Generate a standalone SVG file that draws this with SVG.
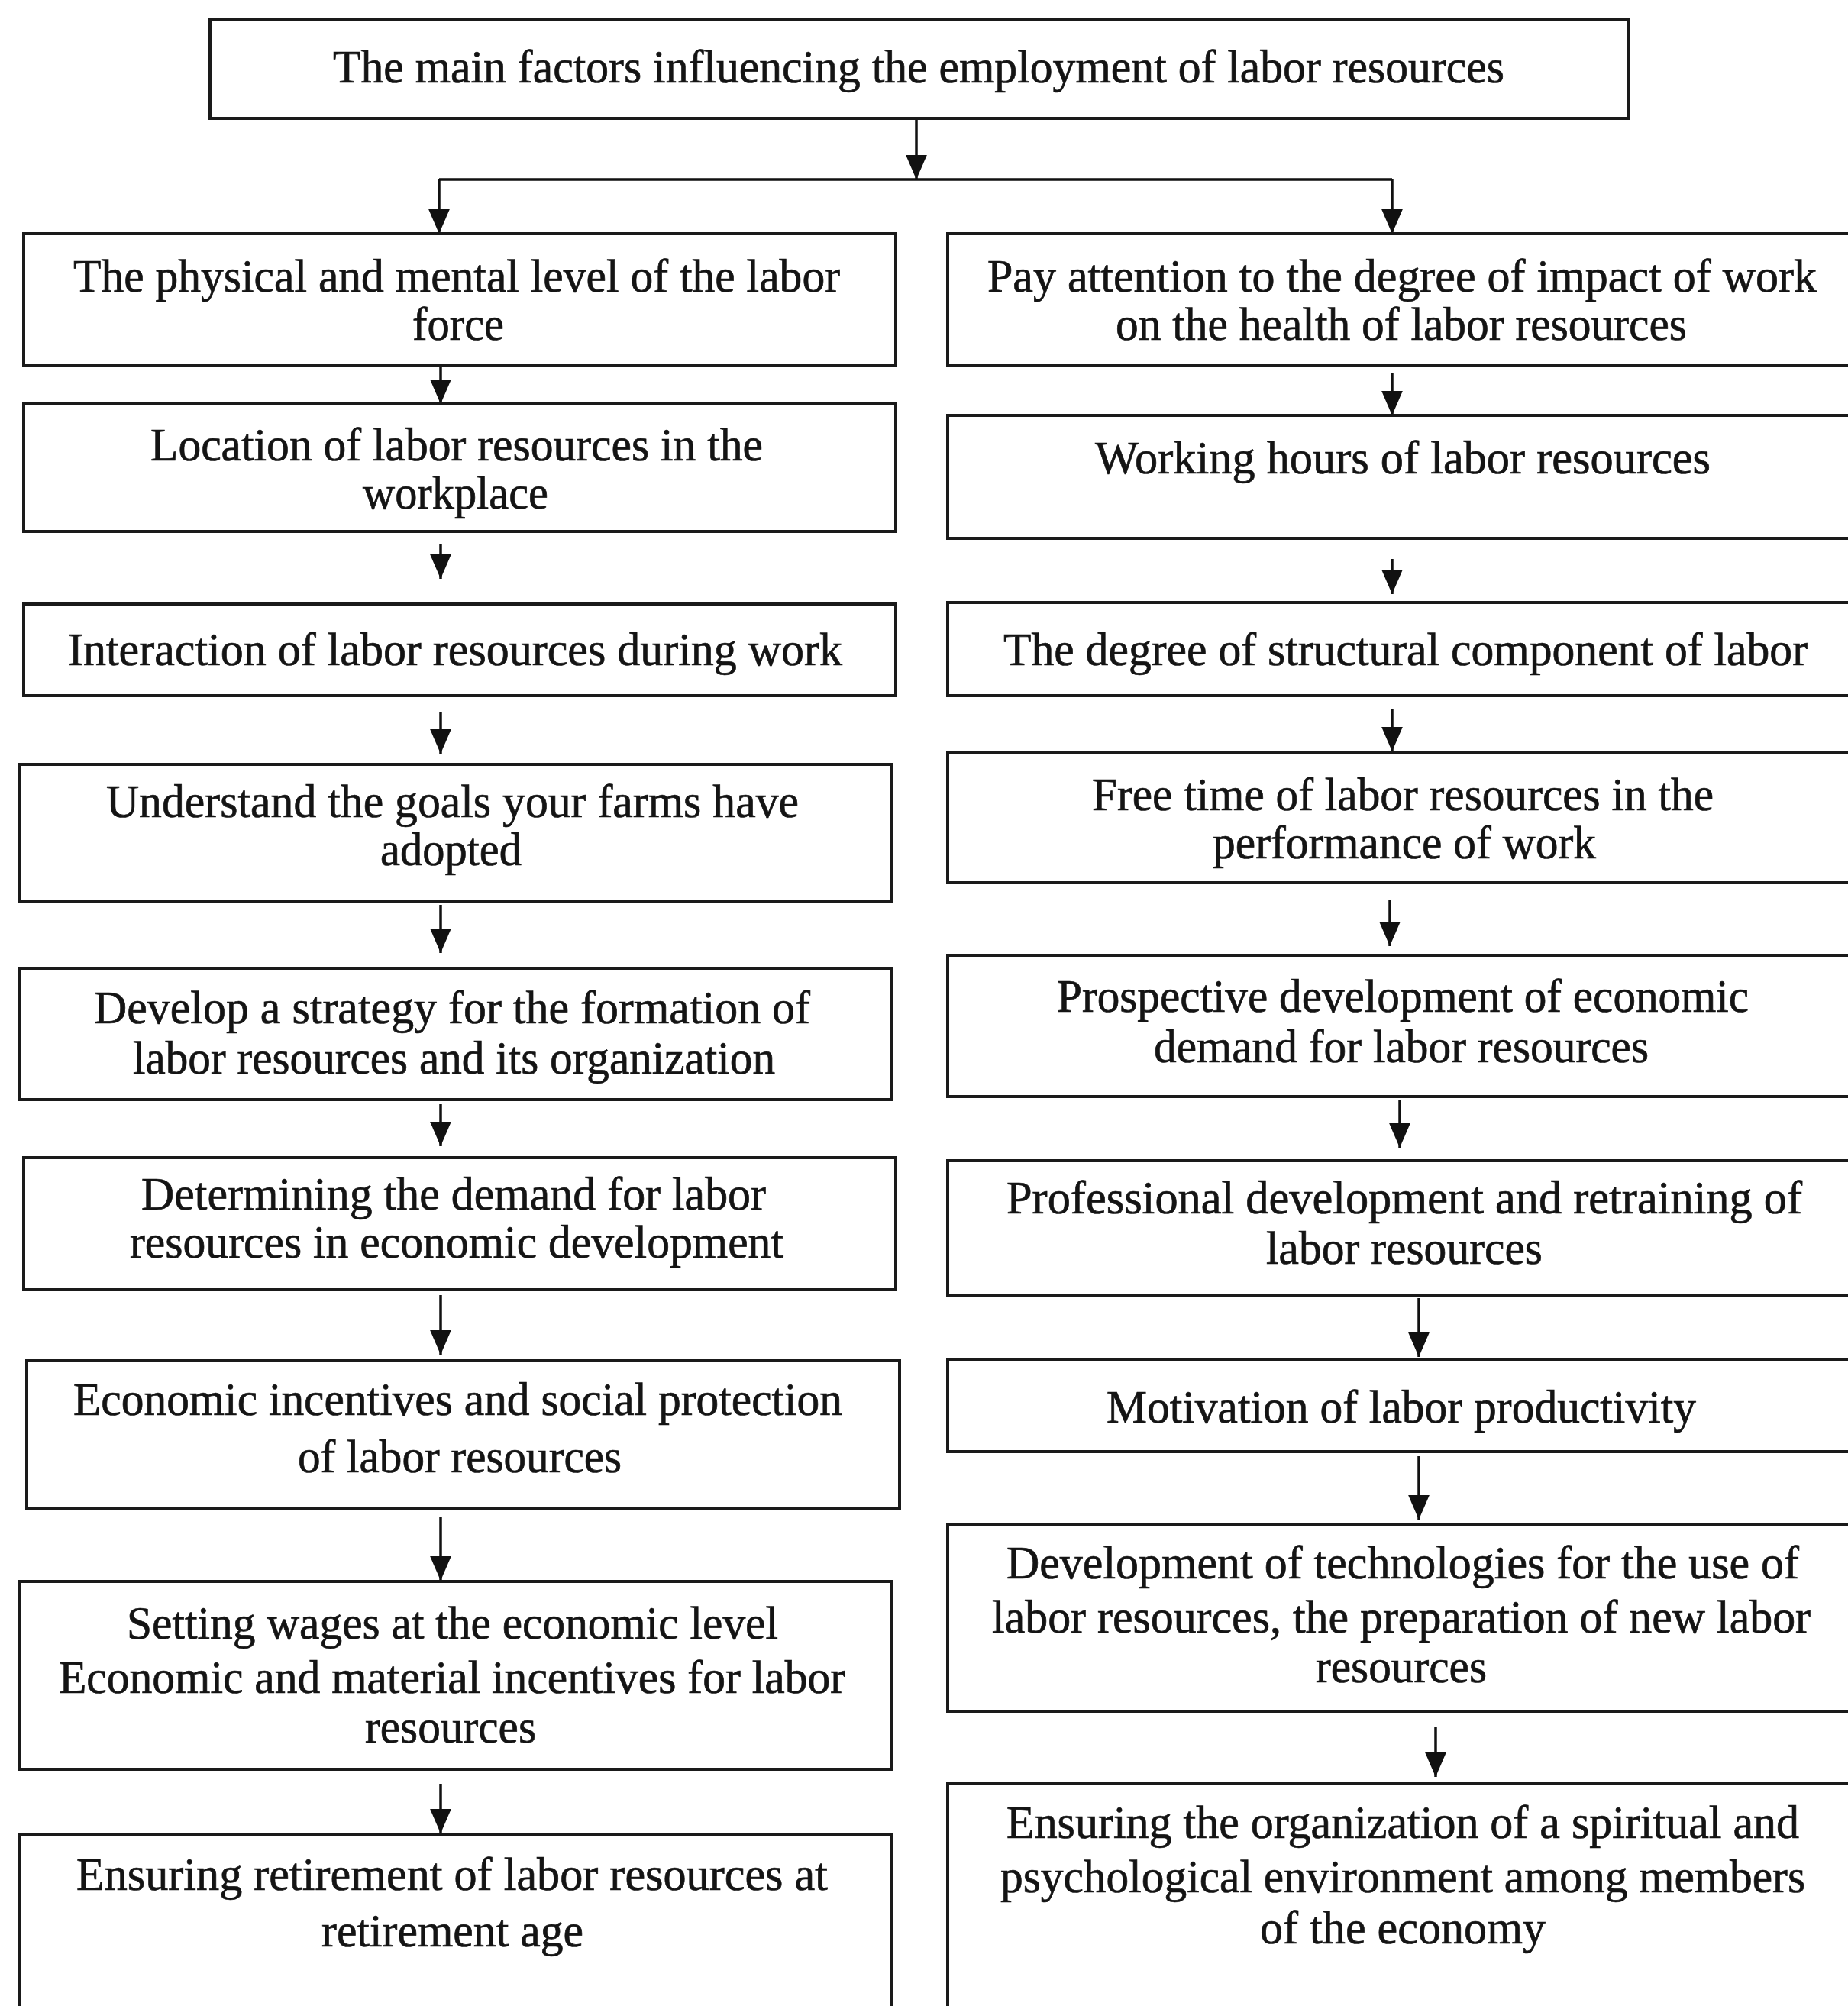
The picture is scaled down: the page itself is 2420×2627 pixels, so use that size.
<svg xmlns="http://www.w3.org/2000/svg" width="2420" height="2627" viewBox="0 0 2420 2627">
<defs>
<style>
.box{fill:#fff;stroke:#1a1a1a;stroke-width:4}
.t{font-family:"Liberation Serif","Times New Roman",serif;font-size:61px;fill:#141414;stroke:#141414;stroke-width:0.7}
.c{fill:none;stroke:#111;stroke-width:3.5}
</style>
<marker id="ah" viewBox="0 0 30 26" refX="30" refY="13" markerWidth="32" markerHeight="28" markerUnits="userSpaceOnUse" orient="auto">
<path d="M0,0 L30,13 L0,26 z" fill="#111"/>
</marker>
</defs>
<rect width="2420" height="2627" fill="#fff"/>

<g id="connectors">
<path class="c" d="M1200,155 V235" marker-end="url(#ah)"/>
<path class="c" d="M575,235 H1823"/>
<path class="c" d="M575,235 V306" marker-end="url(#ah)"/>
<path class="c" d="M1823,235 V306" marker-end="url(#ah)"/>
<path class="c" d="M577,479 V529" marker-end="url(#ah)"/>
<path class="c" d="M577,712 V758" marker-end="url(#ah)"/>
<path class="c" d="M577,932 V987" marker-end="url(#ah)"/>
<path class="c" d="M577,1185 V1248" marker-end="url(#ah)"/>
<path class="c" d="M577,1446 V1501" marker-end="url(#ah)"/>
<path class="c" d="M577,1696 V1774" marker-end="url(#ah)"/>
<path class="c" d="M577,1987 V2070" marker-end="url(#ah)"/>
<path class="c" d="M577,2336 V2401" marker-end="url(#ah)"/>
<path class="c" d="M1823,488 V544" marker-end="url(#ah)"/>
<path class="c" d="M1823,732 V778" marker-end="url(#ah)"/>
<path class="c" d="M1823,929 V984" marker-end="url(#ah)"/>
<path class="c" d="M1820,1179 V1239" marker-end="url(#ah)"/>
<path class="c" d="M1833,1440 V1503" marker-end="url(#ah)"/>
<path class="c" d="M1858,1700 V1777" marker-end="url(#ah)"/>
<path class="c" d="M1858,1907 V1990" marker-end="url(#ah)"/>
<path class="c" d="M1880,2262 V2327" marker-end="url(#ah)"/>
</g>

<g id="top">
<rect class="box" x="275" y="25" width="1857" height="130"/>
<text class="t" x="436" y="108" textLength="1534" lengthAdjust="spacingAndGlyphs">The main factors influencing the employment of labor resources</text>
</g>

<g id="L1">
<rect class="box" x="31" y="306" width="1142" height="173"/>
<text class="t" x="96" y="382" textLength="1004" lengthAdjust="spacingAndGlyphs">The physical and mental level of the labor</text>
<text class="t" x="540" y="445" textLength="120" lengthAdjust="spacingAndGlyphs">force</text>
</g>
<g id="L2">
<rect class="box" x="31" y="529" width="1142" height="167"/>
<text class="t" x="197" y="603" textLength="802" lengthAdjust="spacingAndGlyphs">Location of labor resources in the</text>
<text class="t" x="475" y="666" textLength="243" lengthAdjust="spacingAndGlyphs">workplace</text>
</g>
<g id="L3">
<rect class="box" x="31" y="791" width="1142" height="120"/>
<text class="t" x="89" y="871" textLength="1014" lengthAdjust="spacingAndGlyphs">Interaction of labor resources during work</text>
</g>
<g id="L4">
<rect class="box" x="25" y="1001" width="1142" height="180"/>
<text class="t" x="139" y="1070" textLength="907" lengthAdjust="spacingAndGlyphs">Understand the goals your farms have</text>
<text class="t" x="498" y="1133" textLength="185" lengthAdjust="spacingAndGlyphs">adopted</text>
</g>
<g id="L5">
<rect class="box" x="25" y="1268" width="1142" height="172"/>
<text class="t" x="123" y="1340" textLength="938" lengthAdjust="spacingAndGlyphs">Develop a strategy for the formation of</text>
<text class="t" x="174" y="1406" textLength="841" lengthAdjust="spacingAndGlyphs">labor resources and its organization</text>
</g>
<g id="L6">
<rect class="box" x="31" y="1516" width="1142" height="173"/>
<text class="t" x="185" y="1584" textLength="818" lengthAdjust="spacingAndGlyphs">Determining the demand for labor</text>
<text class="t" x="170" y="1647" textLength="856" lengthAdjust="spacingAndGlyphs">resources in economic development</text>
</g>
<g id="L7">
<rect class="box" x="35" y="1782" width="1143" height="194"/>
<text class="t" x="96" y="1853" textLength="1007" lengthAdjust="spacingAndGlyphs">Economic incentives and social protection</text>
<text class="t" x="390" y="1928" textLength="424" lengthAdjust="spacingAndGlyphs">of labor resources</text>
</g>
<g id="L8">
<rect class="box" x="25" y="2071" width="1142" height="246"/>
<text class="t" x="166" y="2146" textLength="853" lengthAdjust="spacingAndGlyphs">Setting wages at the economic level</text>
<text class="t" x="77" y="2217" textLength="1030" lengthAdjust="spacingAndGlyphs">Economic and material incentives for labor</text>
<text class="t" x="478" y="2282" textLength="224" lengthAdjust="spacingAndGlyphs">resources</text>
</g>
<g id="L9">
<rect class="box" x="25" y="2403" width="1142" height="260"/>
<text class="t" x="100" y="2475" textLength="984" lengthAdjust="spacingAndGlyphs">Ensuring retirement of labor resources at</text>
<text class="t" x="421" y="2549" textLength="343" lengthAdjust="spacingAndGlyphs">retirement age</text>
</g>

<g id="R1">
<rect class="box" x="1241" y="306" width="1200" height="173"/>
<text class="t" x="1293" y="382" textLength="1086" lengthAdjust="spacingAndGlyphs">Pay attention to the degree of impact of work</text>
<text class="t" x="1461" y="445" textLength="748" lengthAdjust="spacingAndGlyphs">on the health of labor resources</text>
</g>
<g id="R2">
<rect class="box" x="1241" y="544" width="1200" height="161"/>
<text class="t" x="1434" y="620" textLength="806" lengthAdjust="spacingAndGlyphs">Working hours of labor resources</text>
</g>
<g id="R3">
<rect class="box" x="1241" y="789" width="1200" height="122"/>
<text class="t" x="1314" y="871" textLength="1053" lengthAdjust="spacingAndGlyphs">The degree of structural component of labor</text>
</g>
<g id="R4">
<rect class="box" x="1241" y="985" width="1200" height="171"/>
<text class="t" x="1430" y="1061" textLength="814" lengthAdjust="spacingAndGlyphs">Free time of labor resources in the</text>
<text class="t" x="1588" y="1124" textLength="502" lengthAdjust="spacingAndGlyphs">performance of work</text>
</g>
<g id="R5">
<rect class="box" x="1241" y="1251" width="1200" height="185"/>
<text class="t" x="1384" y="1325" textLength="906" lengthAdjust="spacingAndGlyphs">Prospective development of economic</text>
<text class="t" x="1511" y="1391" textLength="648" lengthAdjust="spacingAndGlyphs">demand for labor resources</text>
</g>
<g id="R6">
<rect class="box" x="1241" y="1520" width="1200" height="176"/>
<text class="t" x="1318" y="1589" textLength="1042" lengthAdjust="spacingAndGlyphs">Professional development and retraining of</text>
<text class="t" x="1658" y="1655" textLength="362" lengthAdjust="spacingAndGlyphs">labor resources</text>
</g>
<g id="R7">
<rect class="box" x="1241" y="1780" width="1200" height="121"/>
<text class="t" x="1449" y="1863" textLength="772" lengthAdjust="spacingAndGlyphs">Motivation of labor productivity</text>
</g>
<g id="R8">
<rect class="box" x="1241" y="1996" width="1200" height="245"/>
<text class="t" x="1318" y="2067" textLength="1038" lengthAdjust="spacingAndGlyphs">Development of technologies for the use of</text>
<text class="t" x="1299" y="2138" textLength="1072" lengthAdjust="spacingAndGlyphs">labor resources, the preparation of new labor</text>
<text class="t" x="1723" y="2203" textLength="224" lengthAdjust="spacingAndGlyphs">resources</text>
</g>
<g id="R9">
<rect class="box" x="1241" y="2336" width="1200" height="320"/>
<text class="t" x="1318" y="2407" textLength="1038" lengthAdjust="spacingAndGlyphs">Ensuring the organization of a spiritual and</text>
<text class="t" x="1310" y="2478" textLength="1054" lengthAdjust="spacingAndGlyphs">psychological environment among members</text>
<text class="t" x="1650" y="2545" textLength="374" lengthAdjust="spacingAndGlyphs">of the economy</text>
</g>
</svg>
